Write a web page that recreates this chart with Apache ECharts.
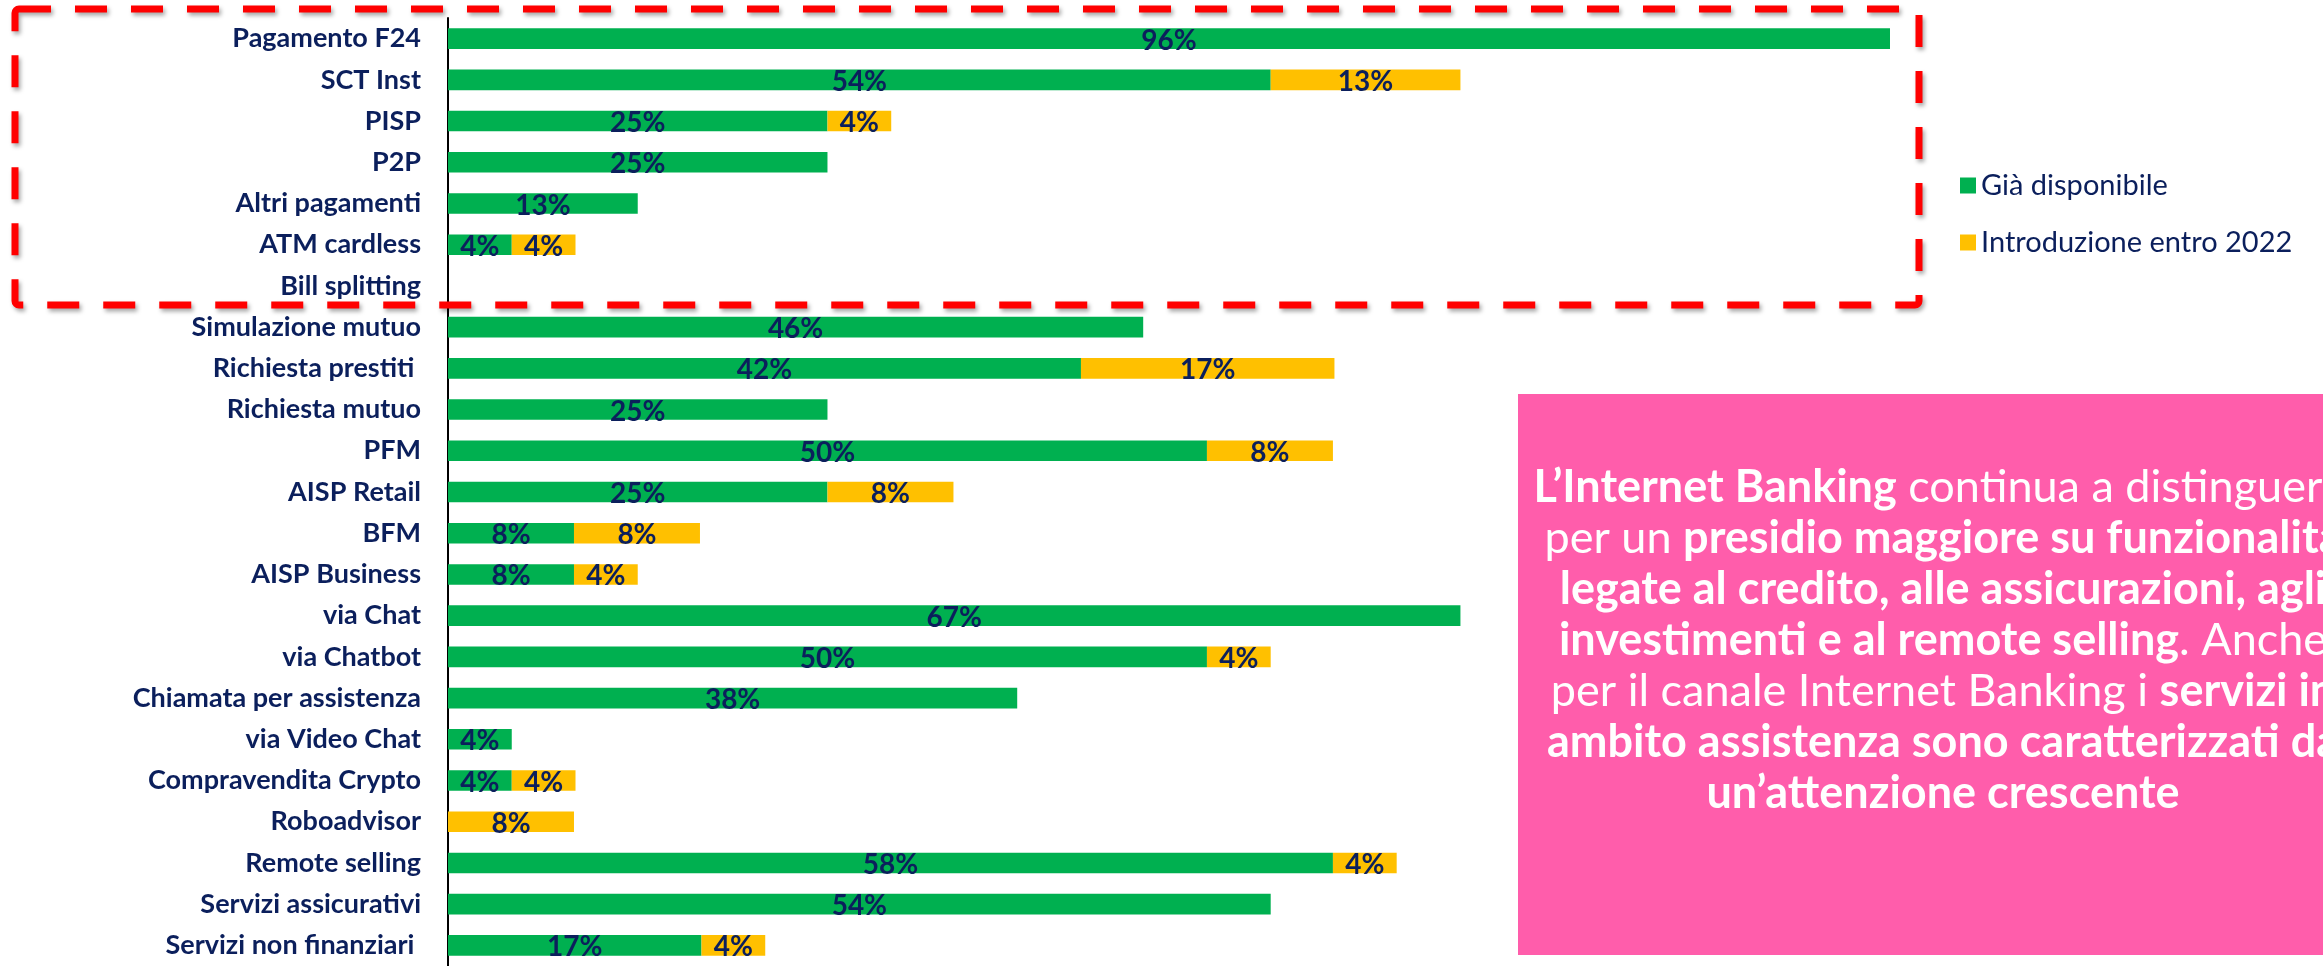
<!DOCTYPE html>
<html>
<head>
<meta charset="utf-8">
<script src="https://cdn.jsdelivr.net/npm/echarts@6/dist/echarts.min.js"></script>
<style>
  html, body { margin: 0; padding: 0; background: #fff; }
  #chart { width: 2323px; height: 966px; }
</style>
</head>
<body>
<div id="chart"></div>
<script>
// categorie (dall'alto verso il basso)
const categories = [
  'Pagamento F24', 'SCT Inst', 'PISP', 'P2P', 'Altri pagamenti', 'ATM cardless',
  'Bill splitting', 'Simulazione mutuo', 'Richiesta prestiti ', 'Richiesta mutuo',
  'PFM', 'AISP Retail', 'BFM', 'AISP Business', 'via Chat', 'via Chatbot',
  'Chiamata per assistenza', 'via Video Chat', 'Compravendita Crypto', 'Roboadvisor',
  'Remote selling', 'Servizi assicurativi', 'Servizi non finanziari '
];
// % banche
const giaDisponibile = [95.8, 54.2, 25, 25, 12.5, 4.2, 0, 45.8, 41.7, 25, 50, 25, 8.3, 8.3, 66.7, 50, 37.5, 4.2, 4.2, 0, 58.3, 54.2, 16.7];
const entro2022 = [0, 12.5, 4.2, 0, 0, 4.2, 0, 0, 16.7, 0, 8.3, 8.3, 8.3, 4.2, 0, 4.2, 0, 0, 4.2, 8.3, 4.2, 0, 4.2];
const seriesNames = ['Già disponibile', 'Introduzione entro 2022'];

const navy = '#0b1f5c';
const font = 'Lato';

const chart = echarts.init(document.getElementById('chart'));

const barLabel = {
  show: true,
  position: 'inside',
  offset: [0, 2],
  fontFamily: font,
  fontWeight: 'bold',
  fontSize: 28,
  color: navy,
  formatter: (p) => (p.value > 0 ? Math.round(p.value) + '%' : '')
};

const option = {
  animation: false,
  grid: { left: 448, right: 433, top: 18, bottom: -4 },
  legend: {
    data: seriesNames,
    orient: 'vertical',
    left: 1955,
    top: 166,
    icon: 'rect',
    itemWidth: 16,
    itemHeight: 16,
    itemGap: 28,
    textStyle: { fontFamily: font, fontSize: 29, color: navy, lineHeight: 29 }
  },
  xAxis: {
    type: 'value',
    min: 0,
    max: 95,
    show: false
  },
  yAxis: {
    type: 'category',
    inverse: true,
    data: categories,
    axisLine: { lineStyle: { color: '#000', width: 2 } },
    axisTick: { show: false },
    axisLabel: {
      margin: 27,
      fontFamily: font,
      fontWeight: 'bold',
      fontSize: 27,
      color: navy
    }
  },
  series: [
    {
      name: seriesNames[0],
      type: 'bar',
      stack: 'tot',
      data: giaDisponibile,
      barCategoryGap: '50%',
      clip: true,
      itemStyle: { color: '#00b050' },
      label: barLabel
    },
    {
      name: seriesNames[1],
      type: 'bar',
      stack: 'tot',
      data: entro2022,
      barCategoryGap: '50%',
      clip: true,
      itemStyle: { color: '#ffc000' },
      label: barLabel
    }
  ],
  graphic: [
    {
      type: 'rect',
      z: 100,
      shape: { x: 15, y: 9, width: 1904, height: 296, r: 4 },
      style: {
        fill: 'none',
        stroke: '#ff0000',
        lineWidth: 7,
        lineDash: [32, 24],
        shadowBlur: 4,
        shadowOffsetX: 2,
        shadowOffsetY: 3,
        shadowColor: 'rgba(0,0,0,0.35)'
      }
    },
    {
      type: 'rect',
      z: 50,
      shape: { x: 1518, y: 394, width: 900, height: 561 },
      style: { fill: '#ff5dab' }
    },
    {
      type: 'text',
      z: 60,
      x: 1943,
      y: 640,
      style: {
        text: [
          '{b|L’Internet Banking} continua a distinguersi',
          'per un {b|presidio maggiore su funzionalità}',
          '{b|legate al credito, alle assicurazioni, agli}',
          '{b|investimenti e al remote selling}. Anche',
          'per il canale Internet Banking i {b|servizi in}',
          '{b|ambito assistenza sono caratterizzati da}',
          '{b|un’attenzione crescente}'
        ].join('\n'),
        align: 'center',
        verticalAlign: 'middle',
        fill: '#fff',
        fontFamily: font,
        fontSize: 45,
        lineHeight: 51,
        rich: {
          b: { fontFamily: font, fontWeight: 'bold', fontSize: 45, lineHeight: 51, fill: '#fff' }
        }
      }
    }
  ]
};

chart.setOption(option);
</script>
</body>
</html>
